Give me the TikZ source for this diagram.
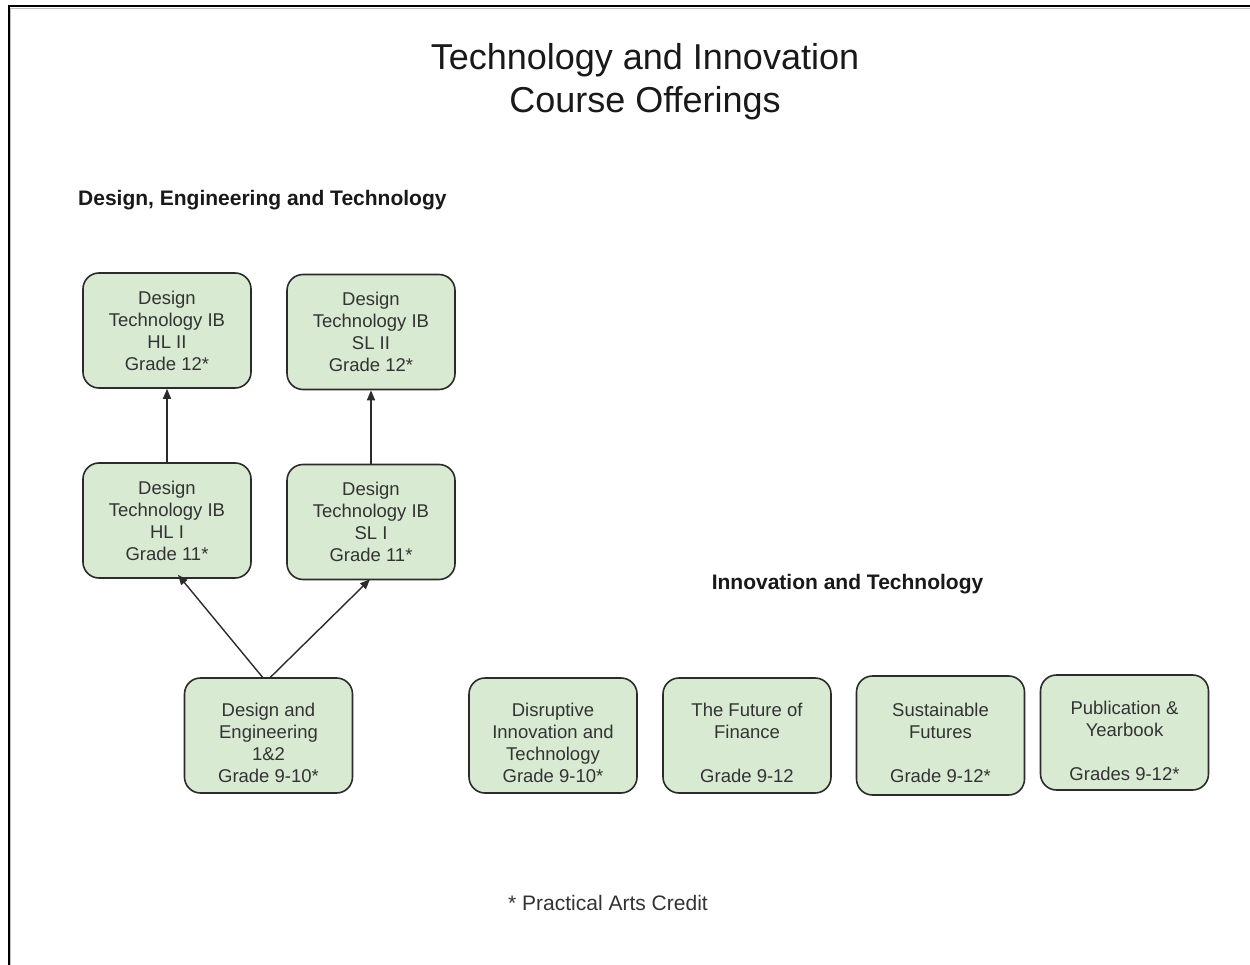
\documentclass[tikz,border=0pt]{standalone}
\usepackage{fontspec}
\setmainfont{Liberation Sans}
\usetikzlibrary{arrows.meta,calc}
\definecolor{boxfill}{HTML}{D9EAD3}
\definecolor{boxline}{HTML}{2B2B2B}
\definecolor{txt}{HTML}{333333}
\tikzset{
  course/.style={draw=boxline, line width=1.6pt, fill=boxfill, rounded corners=16pt,
    minimum width=168pt, minimum height=115pt, inner sep=0pt, align=center,
    text=txt, font=\fontsize{18.5}{22}\selectfont},
  conn/.style={line width=1.4pt, draw=boxline, -{Triangle[length=10pt,width=8pt]}},
  header/.style={font=\fontsize{21}{25}\selectfont\bfseries, text=black!90, inner sep=0pt},
}
\begin{document}
\begin{tikzpicture}[x=1pt,y=-1pt]
\useasboundingbox (0,0) rectangle (1250,965);
\fill[white] (0,0) rectangle (1250,965);
% page frame
\draw[black!25, line width=1pt] (10.5,965) -- (10.5,8.5) -- (1250,8.5);
\draw[black, line width=2pt] (8.5,965) -- (8.5,6.5) -- (1250,6.5);
% title
\node[font=\fontsize{36}{43}\selectfont, align=center, text=black!90, inner sep=0pt] (title) at (645,82)
  {Technology and Innovation\\Course Offerings};
\node[header, anchor=west] (h1) at (78,200) {Design, Engineering and Technology};
\node[header] (h2) at (847.5,584) {Innovation and Technology};
% courses
\node[course] (hl2) at (167,330.5) {Design\\Technology IB\\HL II\\Grade 12*};
\node[course] (sl2) at (371,332) {Design\\Technology IB\\SL II\\Grade 12*};
\node[course] (hl1) at (167,520.5) {Design\\Technology IB\\HL I\\Grade 11*};
\node[course] (sl1) at (371,522) {Design\\Technology IB\\SL I\\Grade 11*};
\node[course] (de) at (268.5,735.5) {\\[6pt]Design and\\Engineering\\1\&2\\Grade 9-10*};
\node[course] (dit) at (553,735.5) {\\[6pt]Disruptive\\Innovation and\\Technology\\Grade 9-10*};
\node[course] (fin) at (747,735.5) {\\[6pt]The Future of\\Finance\\[22pt]Grade 9-12};
\node[course, minimum height=119pt] (sus) at (940.5,735.5) {\\[6pt]Sustainable\\Futures\\[22pt]Grade 9-12*};
\node[course] (pub) at (1124.5,732.5) {\\[8pt]Publication \&\\Yearbook\\[22pt]Grades 9-12*};
% connectors
\draw[conn] (hl1.north) -- (hl2.south);
\draw[conn] (sl1.north) -- (sl2.south);
\coordinate (deL) at ($(de.north)+(-6,0)$);
\coordinate (deR) at ($(de.north)+(2,0)$);
\coordinate (hl1t) at ($(hl1.south)+(11,-4)$);
\coordinate (sl1t) at ($(sl1.south)+(-1,-1)$);
\draw[conn] (deL) -- (hl1t);
\draw[conn] (deR) -- (sl1t);
% footnote
\node[font=\fontsize{21}{25}\selectfont, text=txt, inner sep=0pt] (note) at (608,903) {* Practical Arts Credit};
\end{tikzpicture}
\end{document}
